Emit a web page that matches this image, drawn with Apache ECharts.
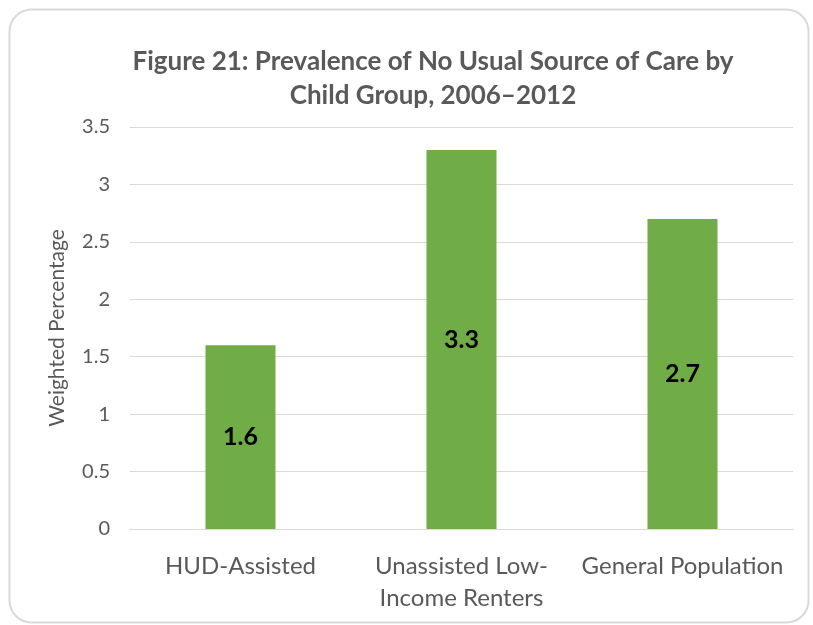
<!DOCTYPE html>
<html><head><meta charset="utf-8">
<script src="https://cdn.jsdelivr.net/npm/echarts@6/dist/echarts.min.js"></script>
<style>html,body{margin:0;padding:0;background:#fff}#c{width:813px;height:625px}</style>
</head><body><div id="c"></div>
<script>
const categories = ['HUD-Assisted', 'Unassisted Low-\nIncome Renters', 'General Population'];
const values = [1.6, 3.3, 2.7];
const yTicks = [0, 0.5, 1, 1.5, 2, 2.5, 3, 3.5];
const titleText = 'Figure 21: Prevalence of No Usual Source of Care by\nChild Group, 2006\u20132012';
const yName = 'Weighted Percentage';

const chart = echarts.init(document.getElementById('c'));
const F = 'Lato, "Open Sans", sans-serif';
chart.setOption({
  animation: false,
  graphic: [{
    type: 'rect', left: 7, top: 7,
    shape: { width: 799, height: 613, r: 22 },
    style: { fill: 'none', stroke: '#d9d9d9', lineWidth: 2 }
  }],
  title: {
    text: titleText, left: 428, top: 40, textAlign: 'center',
    textStyle: { fontFamily: F, fontSize: 26, fontWeight: 'bold', color: '#595959', lineHeight: 34 }
  },
  grid: { left: 130, right: 20, top: 127, bottom: 96, containLabel: false },
  xAxis: {
    type: 'category', data: categories,
    axisLine: { lineStyle: { color: '#d9d9d9', width: 1 } },
    axisTick: { show: false },
    axisLabel: { fontFamily: F, fontSize: 24, color: '#595959', margin: 21, lineHeight: 32, interval: 0 }
  },
  yAxis: {
    type: 'value', min: 0, max: 3.5, interval: 0.5,
    name: yName, nameLocation: 'middle', nameGap: 62,
    nameTextStyle: { fontFamily: F, fontSize: 21, color: '#595959' },
    axisLine: { show: false }, axisTick: { show: false },
    axisLabel: { fontFamily: F, fontSize: 20, color: '#595959', margin: 20,
      formatter: v => yTicks.includes(v) ? String(v) : '' },
    splitLine: { lineStyle: { color: '#d9d9d9', width: 1 } }
  },
  series: [{
    type: 'bar', data: values, barWidth: 70,
    itemStyle: { color: '#70ad47' },
    label: { show: true, position: 'inside', fontFamily: F, fontSize: 25, fontWeight: 'bold', color: '#000' }
  }]
});
</script></body></html>
